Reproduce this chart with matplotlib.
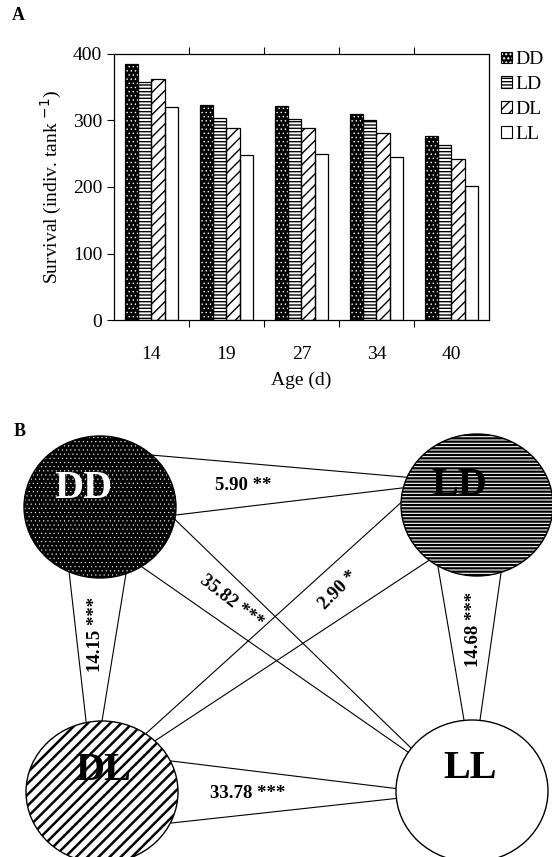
import numpy as np
import matplotlib
matplotlib.use("Agg")
import matplotlib.pyplot as plt
from matplotlib.patches import Ellipse, Patch

plt.rcParams["font.family"] = ["Liberation Serif", "DejaVu Serif"]
plt.rcParams["hatch.linewidth"] = 1.0

# Panel A data
ages = ["14", "19", "27", "34", "40"]
groups = ["DD", "LD", "DL", "LL"]
dd = [385, 323, 322, 310, 277]
ld = [358, 303, 302, 301, 263]
dl = [362, 289, 288, 281, 242]
ll = [320, 248, 249, 245, 202]

# Panel B data: (wide end, narrow end, statistic)
pairs = [("DD", "LD", "5.90 **"),
         ("DD", "DL", "14.15 ***"),
         ("DD", "LL", "35.82 ***"),
         ("LD", "DL", "2.90 *"),
         ("LD", "LL", "14.68 ***"),
         ("DL", "LL", "33.78 ***")]

# layout of panel B (pixel coordinates, y downward)
centers = {"DD": (100, 507), "LD": (477, 505), "DL": (102, 792), "LL": (472, 791)}
rx, ry = 76, 71
# attach angles (deg) on wide circle, then on narrow circle
attach = [((-47, 6.5), (-157, -166)),
          ((114, 70), (-102, -90)),
          ((10, 57), (-143, -147)),
          ((182, 129), (-55, -46)),
          ((121, 71.5), (-96, -84)),
          ((-26, 26), (182, 174))]
label_pos = [(243, 485, 0), (95, 634, 90), (231, 602, -38),
             (338, 590, 45), (474, 629, 90), (248, 793, 0)]
name_pos = {"DD": (83, 488), "LD": (459, 485), "DL": (103, 770), "LL": (470, 769)}

# fill: face, hatch, hatch colour, hatch width (bars / circles)
fills = {"DD": ("black", "....", "white", 0.5, 0.3),
         "LD": ("white", "-----", "black", 1.0, 1.6),
         "DL": ("white", "///", "black", 1.0, 1.8),
         "LL": ("white", None, "black", 1.0, 1.0)}


def hatched(patch, lw):
    if hasattr(patch, "set_hatch_linewidth"):
        patch.set_hatch_linewidth(lw)
    return patch


fig = plt.figure(figsize=(5.52, 8.57), dpi=100)

# ---------- Panel A ----------
ax = fig.add_axes([0.2065, 0.6266, 0.6793, 0.3104])
x = np.arange(len(ages))
w = 0.178
series = [dd, ld, dl, ll]
handles = []
for i, (name, vals) in enumerate(zip(groups, series)):
    face, hat, hcol, hlw, _ = fills[name]
    pos = x + (i - 1.5) * w
    plt.rcParams["hatch.linewidth"] = hlw
    bars = ax.bar(pos, vals, w, color=face, edgecolor=hcol, hatch=hat,
                  linewidth=0, zorder=2)
    for p in bars:
        hatched(p, hlw)
    ax.bar(pos, vals, w, facecolor="none", edgecolor="black", linewidth=0.9, zorder=3)
    h1 = hatched(Patch(facecolor=face, edgecolor=hcol, hatch=hat, linewidth=0), hlw)
    h2 = Patch(facecolor="none", edgecolor="black", linewidth=0.8)
    handles.append((h1, h2))
plt.rcParams["hatch.linewidth"] = 1.0

ax.set_xlim(-0.5, 4.5)
ax.set_ylim(0, 400)
ax.set_yticks([0, 100, 200, 300, 400])
ax.set_xticks(x)
ax.set_xticklabels(ages)
ax.set_xticks(x[:-1] + 0.5, minor=True)
ax.tick_params(axis="x", which="major", length=0, pad=19, labelsize=14)
ax.tick_params(axis="x", which="minor", direction="out", length=5, top=True, width=0.8)
ax.tick_params(axis="y", direction="out", length=5, labelsize=14, width=0.8)
for s in ax.spines.values():
    s.set_linewidth(0.9)
ax.set_ylabel("Survival (indiv. tank $^{-1}$)", fontsize=14, labelpad=6)
ax.set_xlabel("Age (d)", fontsize=14, labelpad=6)

fig.legend(handles, groups, loc="upper left", bbox_to_anchor=(0.908, 0.94),
           frameon=False, fontsize=14, handlelength=0.55, handleheight=0.55,
           handletextpad=0.2, labelspacing=0.4, borderpad=0, borderaxespad=0)

fig.text(18 / 552, 1 - 15 / 857, "A", fontsize=13, fontweight="bold", ha="center", va="center")

# ---------- Panel B ----------
bx = fig.add_axes([0, 0, 1, 462 / 857])
bx.set_xlim(0, 552)
bx.set_ylim(857, 395)
bx.axis("off")


def edge_pt(name, ang):
    cx, cy = centers[name]
    t = np.deg2rad(ang)
    return cx + rx * np.cos(t), cy + ry * np.sin(t)


for (a, b, lab), (wa, nb), (lx, ly, rot) in zip(pairs, attach, label_pos):
    for k in range(2):
        p0 = edge_pt(a, wa[k])
        p1 = edge_pt(b, nb[k])
        bx.plot([p0[0], p1[0]], [p0[1], p1[1]], color="black", lw=0.8, zorder=1)
    bx.text(lx, ly, lab, fontsize=13.5, fontweight="bold", rotation=rot,
            ha="center", va="center", rotation_mode="anchor", zorder=5)

for name in groups:
    face, hat, hcol, _, clw = fills[name]
    cx, cy = centers[name]
    plt.rcParams["hatch.linewidth"] = clw
    bx.add_patch(hatched(Ellipse((cx, cy), 2 * rx, 2 * ry, facecolor=face, edgecolor=hcol,
                                 hatch=hat, linewidth=0, zorder=2), clw))
    bx.add_patch(Ellipse((cx, cy), 2 * rx, 2 * ry, facecolor="none",
                         edgecolor="black", linewidth=1.0, zorder=3))
    tx, ty = name_pos[name]
    bx.text(tx, ty, name, fontsize=29, fontweight="bold", ha="center", va="center",
            color="white" if name == "DD" else "black", zorder=4)
plt.rcParams["hatch.linewidth"] = 1.0

fig.text(20 / 552, 1 - 432 / 857, "B", fontsize=13, fontweight="bold", ha="center", va="center")

fig.savefig("out.png", dpi=100)
